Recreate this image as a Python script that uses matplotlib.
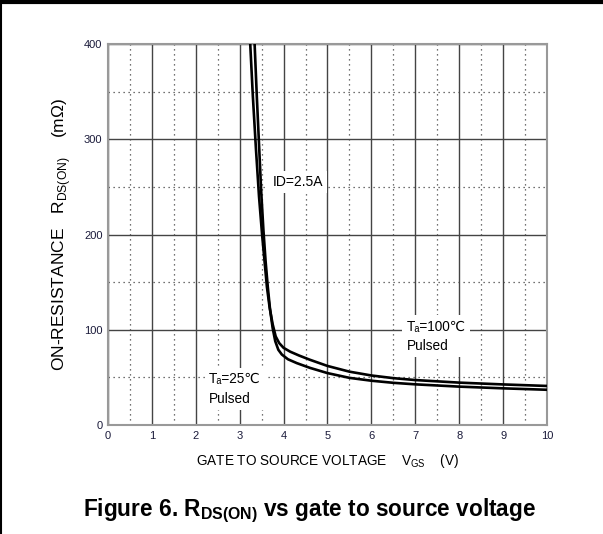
import numpy as np
import matplotlib.pyplot as plt
from matplotlib.lines import Line2D

plt.rcParams['font.family'] = ['Liberation Sans', 'DejaVu Sans']
plt.rcParams['mathtext.fontset'] = 'custom'
plt.rcParams['mathtext.rm'] = 'Liberation Sans'
plt.rcParams['mathtext.bf'] = 'Liberation Sans:bold'

# Ta = 25 C curve
vgs_25 = [3.34, 3.39, 3.44, 3.49, 3.54, 3.59, 3.64, 3.69, 3.75, 3.81, 3.88, 3.96, 4.1, 4.3, 4.6, 5.0, 5.5, 6.0, 6.5, 7.0, 8.0, 9.0, 10.0]
rds_25 = [400, 345, 295, 245, 205, 172, 145, 122, 102, 88, 79, 74, 69, 65, 60, 54.5, 49.5, 46.5, 44.3, 42.7, 40.3, 38.5, 37]

# Ta = 100 C curve
vgs_100 = [3.24, 3.30, 3.37, 3.44, 3.51, 3.57, 3.62, 3.68, 3.75, 3.82, 3.90, 4.0, 4.15, 4.35, 4.6, 5.0, 5.5, 6.0, 6.5, 7.0, 8.0, 9.0, 10.0]
rds_100 = [400, 345, 290, 240, 200, 170, 145, 124, 106, 93, 86, 81, 77, 73, 68.5, 62, 56, 52, 49.2, 47.2, 44.5, 42.6, 41]

x_ticks = list(range(0, 11))
y_ticks = [0, 100, 200, 300, 400]

fig = plt.figure(figsize=(6.03, 5.34), dpi=100)
ax = fig.add_axes([0.1791, 0.2041, 0.728, 0.7135])

ax.set_xlim(0, 10)
ax.set_ylim(0, 400)
ax.set_xticks(x_ticks)
ax.set_yticks(y_ticks)
ax.set_xticks(np.arange(0.5, 10, 1), minor=True)
ax.set_yticks([50, 150, 250, 350], minor=True)
ax.grid(which='major', color='#444444', lw=1.0)
ax.grid(which='minor', color='#444444', lw=0.9, ls=(0, (1, 3)))
ax.tick_params(which='both', length=0)
ax.tick_params(labelsize=8, labelcolor='#1a1a3a', pad=4)
for s in ax.spines.values():
    s.set_color('#999999')
    s.set_linewidth(1.5)

ax.plot(vgs_25, rds_25, color='black', lw=1.9, zorder=3)
ax.plot(vgs_100, rds_100, color='black', lw=1.9, zorder=3)

box = dict(facecolor='white', edgecolor='none', pad=3)
ax.text(3.75, 255, 'ID=2.5A', fontsize=10, va='center', ha='left', bbox=box, zorder=4)
ax.text(2.3, 38, 'T\u2090=25\u2103\nPulsed', fontsize=9.8, va='center', ha='left',
        linespacing=1.5, bbox=box, zorder=4)
ax.text(6.8, 93, 'T\u2090=100\u2103\nPulsed', fontsize=9.8, va='center', ha='left',
        linespacing=1.5, bbox=box, zorder=4)

ax.set_xlabel('GATE TO SOURCE VOLTAGE    V$_{\\mathrm{GS}}$    (V)', fontsize=9.8, labelpad=8)
ax.set_ylabel('ON-RESISTANCE   R$_{\\mathrm{DS(ON)}}$    (m\u03a9)', fontsize=12.5, labelpad=8)

fig.text(0.513, 0.034, 'Figure 6. R$_{\\mathbf{DS(ON)}}$ vs gate to source voltage',
         fontsize=16.3, fontweight='bold', ha='center', va='baseline')

fig.add_artist(Line2D([0, 1], [0.996, 0.996], color='black', lw=3, transform=fig.transFigure))
fig.add_artist(Line2D([0.002, 0.002], [0, 1], color='black', lw=1.5, transform=fig.transFigure))

fig.savefig('out.png', dpi=100)
